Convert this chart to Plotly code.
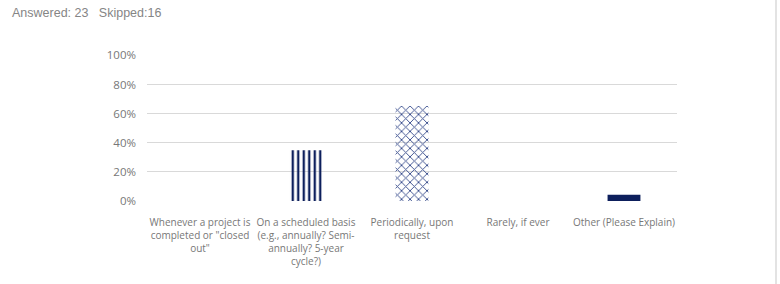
import plotly.graph_objects as go

categories = [
    "Whenever a project is<br>completed or \"closed<br>out\"",
    "On a scheduled basis<br>(e.g., annually? Semi-<br>annually? 5-year<br>cycle?)",
    "Periodically, upon<br>request",
    "Rarely, if ever",
    "Other (Please Explain)",
]
values = [0.0, 0.3478, 0.6522, 0.0, 0.0435]
tick_vals = [0, 0.2, 0.4, 0.6, 0.8, 1.0]
tick_text = ["0%", "20%", "40%", "60%", "80%", "100%"]
header = "Answered: 23   Skipped:16"

navy = "#0d1f5c"
shapes = ["", "|", "x", "", ""]
colors = [navy, navy, "#34498a", navy, navy]

fig = go.Figure()
fig.add_trace(go.Bar(
    x=categories, y=values, width=0.31,
    marker=dict(
        color=colors,
        line=dict(width=0),
        pattern=dict(shape=shapes, bgcolor="white",
                     size=[6, 5.5, 6, 6, 6], solidity=[0.3, 0.42, 0.28, 0.3, 0.3],
                     fillmode="replace"),
    ),
    hoverinfo="skip",
))

fig.update_layout(
    width=780, height=284,
    margin=dict(l=147, r=103, t=55, b=83),
    paper_bgcolor="white", plot_bgcolor="white",
    showlegend=False,
    font=dict(family="Open Sans, sans-serif", color="#777777"),
    xaxis=dict(tickfont=dict(size=10, color="#777777"), showline=False,
               showgrid=False, ticks="", fixedrange=True, ticklabelstandoff=14,
               tickangle=0, automargin=False),
    yaxis=dict(range=[0, 1.003], tickvals=tick_vals, ticktext=tick_text,
               tickfont=dict(size=11.5, color="#777777"),
               showgrid=True, gridcolor="#d9d9d9", gridwidth=1,
               zeroline=False, showline=False, ticks="", ticklen=0,
               fixedrange=True, ticklabelstandoff=10, automargin=False),
)
fig.add_annotation(text=header, xref="paper", yref="paper", x=(10 - 147) / 530, y=1 + (55 - 13) / 146,
                   xanchor="left", yanchor="middle", showarrow=False,
                   font=dict(family="Liberation Sans, Arial, sans-serif", size=12.5, color="#858585"))
fig.add_shape(type="line", xref="paper", yref="paper",
              x0=(776 - 147) / 530, x1=(776 - 147) / 530, y0=-83 / 146, y1=1 + 55 / 146,
              line=dict(color="#e3e3e3", width=2))

fig.write_html("out.html")
